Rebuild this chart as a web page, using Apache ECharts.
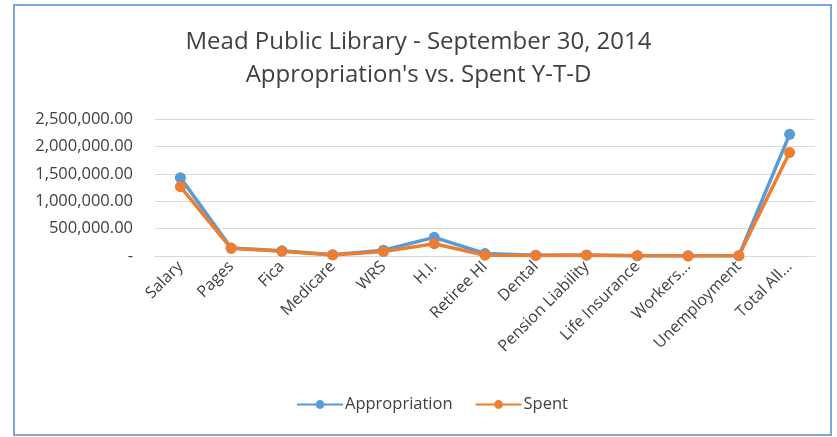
<!DOCTYPE html>
<html>
<head>
<meta charset="utf-8">
<title>Mead Public Library</title>
<script src="https://cdn.jsdelivr.net/npm/echarts@6/dist/echarts.min.js"></script>
<style>
  html, body { margin: 0; padding: 0; background: #fff; }
  #main { position: absolute; left: 0; top: 0; width: 837px; height: 437px; }
  .frame { position: absolute; left: 13px; top: 4px; width: 815px; height: 428px;
           border: 2px solid #7ea6d6; pointer-events: none; }
</style>
</head>
<body>
<div id="main"></div>
<div class="frame"></div>
<script>
// data
var categories = ['Salary', 'Pages', 'Fica', 'Medicare', 'WRS', 'H.I.', 'Retiree HI',
    'Dental', 'Pension Liability', 'Life Insurance', 'Workers...', 'Unemployment', 'Total All...'];
var appropriation = [1430000, 145000, 95000, 25000, 105000, 340000, 45000, 15000, 20000, 5000, 5000, 5000, 2220000];
var spent = [1265000, 140000, 85000, 20000, 80000, 225000, 15000, 10000, 15000, 5000, 0, 5000, 1890000];

var yFmt = function (v) {
    if (v === 0) return '-';
    return v.toLocaleString('en-US', { minimumFractionDigits: 2, maximumFractionDigits: 2 });
};

var font = '"Open Sans", "Noto Sans", sans-serif';

var option = {
    backgroundColor: '#fff',
    title: {
        text: 'Mead Public Library - September 30, 2014\nAppropriation\'s vs. Spent Y-T-D',
        left: 'center',
        top: 21,
        textStyle: {
            fontFamily: font,
            fontSize: 24,
            fontWeight: 'normal',
            color: '#404040',
            lineHeight: 33
        }
    },
    legend: {
        data: ['Appropriation', 'Spent'],
        bottom: 19,
        left: 291,
        itemWidth: 46,
        itemHeight: 11,
        itemGap: 22,
        textStyle: { fontFamily: font, fontSize: 16.5, color: '#404040', padding: [0, 0, 0, -3] }
    },
    grid: { left: 155, right: 22, top: 119, bottom: 181 },
    xAxis: {
        type: 'category',
        data: categories,
        boundaryGap: true,
        axisLine: { lineStyle: { color: '#d9d9d9' } },
        axisTick: { show: false },
        axisLabel: {
            interval: 0,
            rotate: 45,
            margin: 8,
            fontFamily: font,
            fontSize: 16,
            color: '#404040'
        }
    },
    yAxis: {
        type: 'value',
        min: 0,
        max: 2500000,
        interval: 500000,
        axisLine: { show: false },
        axisTick: { show: false },
        splitLine: { lineStyle: { color: '#d9d9d9' } },
        axisLabel: {
            margin: 22,
            formatter: yFmt,
            fontFamily: font,
            fontSize: 16.5,
            color: '#404040'
        }
    },
    series: [
        {
            name: 'Appropriation',
            type: 'line',
            data: appropriation,
            symbol: 'circle',
            symbolSize: 11,
            color: '#5b9bd5',
            lineStyle: { width: 3.5 }
        },
        {
            name: 'Spent',
            type: 'line',
            data: spent,
            symbol: 'circle',
            symbolSize: 11,
            color: '#ed7d31',
            lineStyle: { width: 3.5 }
        }
    ]
};

var myChart = echarts.init(document.getElementById('main'));
myChart.setOption(option);
</script>
</body>
</html>
